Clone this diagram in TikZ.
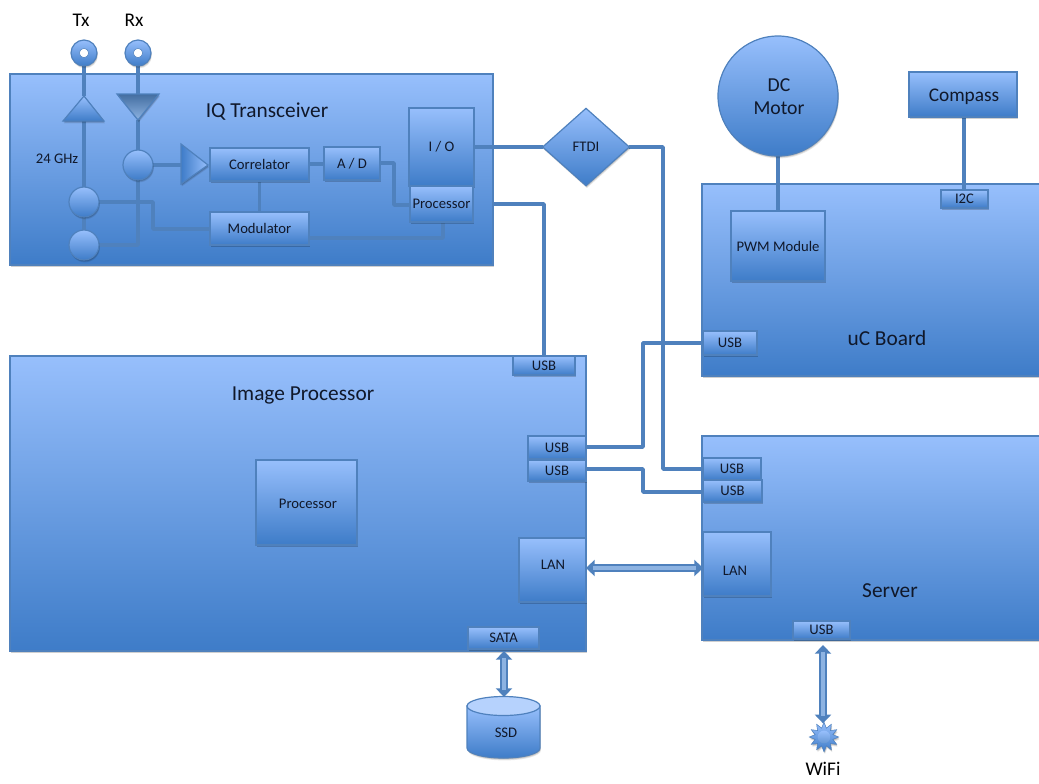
\documentclass[tikz,border=0pt]{standalone}
\usepackage{fontspec}
\setmainfont{Carlito}
\usetikzlibrary{shapes.geometric,shadows,arrows.meta,calc}
\definecolor{edgeblue}{HTML}{4F81BD}
\definecolor{topblue}{HTML}{97BFFC}
\definecolor{botblue}{HTML}{3E7CC8}
\definecolor{lightblue}{HTML}{8DB3E2}
\definecolor{inkdark}{HTML}{10182A}
\pgfdeclarelayer{big}
\pgfdeclarelayer{wires}
\pgfsetlayers{big,wires,main}
\tikzset{
  x=0.75pt,y=-0.75pt,
  sh/.style={
    drop shadow={shadow xshift=0.7pt,shadow yshift=-1.8pt,fill=black,opacity=.09},
    drop shadow={shadow xshift=0.5pt,shadow yshift=-1.2pt,fill=black,opacity=.11},
    drop shadow={shadow xshift=0.3pt,shadow yshift=-0.7pt,fill=black,opacity=.13}},
  grad/.style={top color=topblue,bottom color=botblue,draw=edgeblue,line width=.9pt},
  box/.style={grad,sh,rectangle,inner sep=0pt,outer sep=0pt,text=inkdark,font=\fontsize{11}{13}\selectfont,align=center},
  wire/.style={draw=edgeblue,line width=2.7pt,line join=round},
  title/.style={text=inkdark,font=\fontsize{16}{18}\selectfont,inner sep=0pt},
  small/.style={text=inkdark,font=\fontsize{11}{13}\selectfont,inner sep=0pt},
  outside/.style={text=black,font=\fontsize{14.5}{17}\selectfont,inner sep=0pt},
  dot/.style={grad,sh,circle,inner sep=0pt,outer sep=0pt,minimum size=22.5pt},
  ring/.style={grad,sh,circle,inner sep=0pt,outer sep=0pt,minimum size=19.5pt},
  hole/.style={circle,fill=white,draw=edgeblue,line width=.4pt,inner sep=0pt,minimum size=7pt},
  dblout/.style={draw=edgeblue,line width=6.2pt,{Triangle[width=12pt,length=6.5pt]}-{Triangle[width=12pt,length=6.5pt]}},
  dblin/.style={draw=lightblue,line width=3.2pt},
}
\newcommand\bx[7][]{%
  \pgfmathsetmacro\bw{(#5-#3)*0.75}%
  \pgfmathsetmacro\bh{(#6-#4)*0.75}%
  \node[box,minimum width=\bw pt,minimum height=\bh pt,#1] (#2) at ({(#3+#5)/2},{(#4+#6)/2}) {#7};%
}
\begin{document}
\begin{tikzpicture}
\useasboundingbox (0,0) rectangle (1039,783);
\begin{pgfonlayer}{big}
\bx{iq}{10}{74}{493}{265}{}
\bx{ip}{10}{356}{586}{651}{}
\bx{uc}{702}{184}{1044}{376}{}
\bx{srv}{702}{436}{1044}{640}{}
\end{pgfonlayer}

% titles
\node[title] (iqT) at (267,111.5) {IQ Transceiver};
\node[title] (ipT) at (303,395.5) {Image Processor};
\node[title] (ucT) at (887,338) {uC Board};
\node[title] (srvT) at (890,591) {Server};
\node[small] (ghz) at (57,159) {24 GHz};
\node[outside] (txT) at (81,20) {Tx};
\node[outside] (rxT) at (134,20) {Rx};
\node[outside] (wifiT) at (823,769) {WiFi};

% boxes
\bx{corr}{210}{148}{309}{181}{Correlator}
\bx{mod}{210}{212}{309}{245}{Modulator}
\bx{ad}{324}{147}{380}{180}{A / D}
\bx{io}{409}{108}{474}{186}{I / O}
\bx{proc}{410}{186}{473}{222}{Processor}
\bx{ipproc}{256}{460}{357}{545}{}
\bx{usbtop}{513}{356}{575}{375}{USB}
\bx{usba}{528}{436}{586}{459}{USB}
\bx{usbb}{528}{460}{586}{481}{USB}
\bx{lana}{519}{538}{586}{602}{}
\bx{sata}{468}{627}{539}{649}{SATA}
\bx{usbuc}{703}{331}{757}{355}{USB}
\bx{pwm}{731}{211}{825}{281}{PWM Module}
\bx{itc}{941}{190}{988}{208}{I2C}
\bx{usbc}{703}{458}{761}{480}{USB}
\bx{usbd}{703}{480}{762}{502}{USB}
\bx{lanb}{703}{532}{771}{596}{}
\bx{usbe}{793}{621}{850}{639}{USB}
\bx{compass}{909}{72}{1017}{117}{}
\node[small] (ipprocT) at (308,504) {Processor};
\node[small] (lanaT) at (553,565) {LAN};
\node[small] (lanbT) at (735,571) {LAN};
\node[outside,text=inkdark] (compassT) at (964,96.5) {Compass};

\node[grad,sh,circle,inner sep=0pt,outer sep=0pt,minimum size=90pt] (motor) at (778,96) {};
\node[text=inkdark,align=center,inner sep=0pt,font=\fontsize{14.8}{17.4}\selectfont] (motorT) at (779,96.5) {DC\\Motor};
\node[grad,sh,diamond,inner sep=0pt,outer sep=0pt,minimum width=65pt,minimum height=58pt,text=inkdark,font=\fontsize{11}{13}\selectfont] (ftdi) at (586,147) {FTDI};

% circles
\node[ring] (tx) at (84,53) {};
\node[hole] (txh) at (84,53) {};
\node[ring] (rx) at (138,53) {};
\node[hole] (rxh) at (138,53) {};
\node[dot] (cr) at (138,165) {};
\node[dot] (ca) at (84,202) {};
\node[dot] (cb) at (84,245) {};

% triangles
\path[grad,sh] (84,96) coordinate (txa) -- (104,121) -- (63,121) -- cycle;
\coordinate (txb) at (84,121);
\path[sh,draw=edgeblue,line width=.9pt,top color=edgeblue!85!black,bottom color=lightblue] (117,94) -- (159,94) -- (138,120) coordinate (rxb) -- cycle;
\coordinate (rxa) at (138,94);
\path[sh,draw=edgeblue,line width=.9pt,left color=botblue,right color=topblue] (181,144) -- (208,165) -- (181,184) -- cycle;
\coordinate (ampin) at (181,165);

% SSD
\path[grad,sh] (467,706) -- (467,748) arc[start angle=180,end angle=0,x radius=36.5,y radius=10] -- (540,706) -- cycle;
\path[draw=edgeblue,line width=.9pt,fill=topblue!70!white] (503.5,706) ellipse [x radius=36.5,y radius=9.5];
\coordinate (ssdtop) at (504,697);
\node[small] (ssd) at (506,733) {SSD};

% WiFi star
\node[star,star points=12,star point ratio=1.6,grad,sh,line width=.4pt,inner sep=0pt,outer sep=0pt,minimum size=22pt] (wifi) at (824,737) {};
\node[circle,inner sep=0pt,outer sep=0pt,minimum size=9.5pt,top color=topblue,bottom color=botblue!80] (wifih) at (824,737) {};

\begin{pgfonlayer}{wires}
\draw[wire] (tx) -- (txa);
\draw[wire] (txb) -- (ca);
\draw[wire] (ca) -- (cb);
\draw[wire] (rx) -- (rxa);
\draw[wire] (rxb) -- (cr);
\draw[wire] (cr) -- (138,245) -- (cb);
\draw[wire] (cr) -- (ampin);
\draw[wire] (ca.east) -- (153,202) -- (153,229) -- (mod.west |- 0,229);
\draw[wire] (corr) -- (mod);
\draw[wire] (corr.east |- 0,164) -- (ad.west |- 0,164);
\draw[wire] (ad.east |- 0,163) -- (394,163) -- (394,205) -- (proc.west |- 0,205);
\draw[wire] (mod.east |- 0,238) -- (443,238) -- (proc.south -| 443,0);
\draw[wire] (io.east |- ftdi.west) -- (ftdi.west);
\draw[wire] (ftdi.east) -- (663,147) -- (663,469) -- (usbc.west);
\draw[wire] (iq.east |- 0,204) -- (544,204) -- (usbtop.north -| 544,0);
\draw[wire] (usba.east |- 0,447) -- (643,447) -- (643,343) -- (usbuc.west |- 0,343);
\draw[wire] (usbb.east |- 0,469) -- (643,469) -- (643,492) -- (usbd.west |- 0,492);
\draw[wire] (motor) -- (pwm.north -| motor.south);
\draw[wire] (compass.south -| 964,0) -- (itc.north -| 964,0);
\end{pgfonlayer}

% double arrows
\draw[dblout] (lana.east |- 0,568) -- (lanb.west |- 0,568);
\draw[dblin] ($(lana.east |- 0,568)+(7,0)$) -- ($(lanb.west |- 0,568)+(-7,0)$);
\draw[dblout] ($(sata.south -| 504,0)+(0,2)$) -- (ssdtop);
\draw[dblin] ($(sata.south -| 504,0)+(0,9)$) -- ($(ssdtop)+(0,-7)$);
\draw[dblout] ($(usbe.south -| 823,0)+(0,6)$) -- ($(wifi.north -| 823,0)+(0,1)$);
\draw[dblin] ($(usbe.south -| 823,0)+(0,13)$) -- ($(wifi.north -| 823,0)+(0,-6)$);
\end{tikzpicture}
\end{document}
